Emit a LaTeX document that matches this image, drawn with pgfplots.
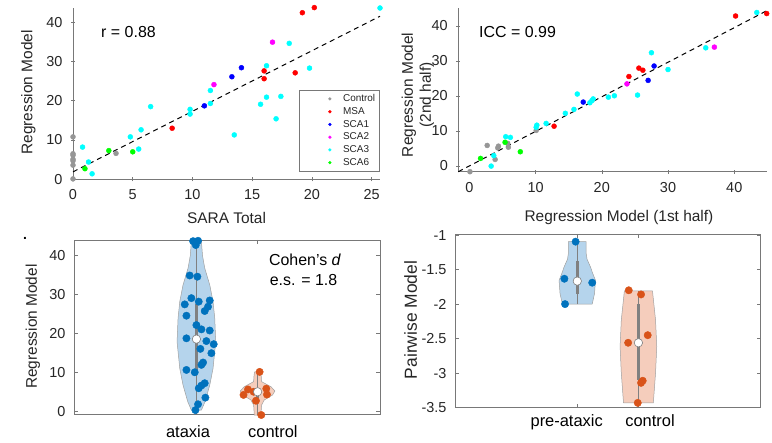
\documentclass[border=0pt]{standalone}
\usepackage{fontspec}
\setmainfont{Liberation Sans}
\usepackage{pgfplots}
\pgfplotsset{compat=1.18}

\definecolor{axgray}{RGB}{120,120,120}
\definecolor{txt}{RGB}{38,38,38}
\definecolor{cgray}{RGB}{150,150,150}
\definecolor{cred}{RGB}{255,0,0}
\definecolor{cblue}{RGB}{0,0,255}
\definecolor{cmag}{RGB}{255,0,255}
\definecolor{ccyan}{RGB}{0,255,255}
\definecolor{cgreen}{RGB}{0,255,0}
\definecolor{mblue}{RGB}{0,114,189}
\definecolor{morange}{RGB}{217,83,25}
\definecolor{vblue}{RGB}{181,212,236}
\definecolor{vorange}{RGB}{245,205,188}
\definecolor{vedge}{RGB}{160,160,160}
\definecolor{boxgray}{RGB}{128,128,128}

\pgfplotsset{
  base/.style={
    scale only axis, anchor=south west, clip=false,
    /pgf/number format/assume math mode=true,
    tick label style={font=\fontsize{14.5}{16}\selectfont, text=txt},
    label style={font=\fontsize{15.5}{18}\selectfont, text=txt},
    yticklabel style={xshift=-5bp},
    xticklabel style={yshift=-5bp},
    tick align=inside, major tick length=4bp,
    tick style={axgray, line width=0.5pt},
    axis line style={axgray, line width=0.6pt},
  },
  scat/.style={only marks, mark=*, mark size=2.5bp, color=#1, mark options={draw=#1, fill=#1}},
  jit/.style={only marks, mark=*, mark size=3.7bp, color=#1, mark options={draw=#1, fill=#1}},
  med/.style={only marks, mark=*, mark size=4.2bp, mark options={fill=white, draw=boxgray, line width=0.6pt}},
}

\begin{document}
\begin{tikzpicture}
\path[use as bounding box] (0,0) rectangle (772bp,443bp);
\node[font=\fontsize{14}{14}\selectfont\bfseries] at (25bp,205bp) {.};

% ---------------- top left ----------------
\begin{axis}[base, at={(73bp,263.7bp)}, width=307bp, height=171.3bp,
  axis lines=left, axis line style={-},
  xmin=0, xmax=25.7, ymin=0, ymax=43.6,
  xtick={0,5,10,15,20,25}, ytick={0,10,20,30,40},
  xlabel={SARA Total}, ylabel={Regression Model},
  xlabel style={at={(axis description cs:0.5,-0.228)}, anchor=center},
  ylabel style={at={(axis description cs:-0.1456,0.507)}, anchor=center},
  legend style={at={(0.998,0.048)}, anchor=south east, draw=axgray, fill=white,
    font=\fontsize{10}{11}\selectfont, text=txt, inner xsep=2bp, inner ysep=2bp,
    row sep=0.3bp, cells={anchor=west}},
  legend image code/.code={\path (-15bp,0bp) (24bp,0bp); \draw[#1] plot coordinates {(13bp,0bp)};},
  legend image post style={mark size=1.4bp},
]
\addplot[scat=cgray] coordinates {(0,10.8) (0,6.5) (0,6.1) (0,5.1) (0,4.7) (0,3.6) (0,0.1) (3.6,6.6)};
\addlegendentry{Control}
\addplot[scat=cred] coordinates {(19.2,42.4) (20.2,43.7) (16.0,27.6) (16.0,25.6) (18.6,27.1) (8.3,13.0)};
\addlegendentry{MSA}
\addplot[scat=cblue] coordinates {(14.1,28.4) (13.3,26.1) (11.0,18.7)};
\addlegendentry{SCA1}
\addplot[scat=cmag] coordinates {(16.7,34.9) (11.8,24.1)};
\addlegendentry{SCA2}
\addplot[scat=ccyan] coordinates {(18.1,34.6) (19.8,28.3) (16.2,28.9) (11.5,22.6) (11.5,19.3) (9.8,17.8) (9.8,16.6) (6.5,18.5) (16.2,20.9) (17.4,21.1) (15.7,19.1) (17.0,15.4) (13.5,11.3) (5.7,12.6) (4.8,10.8) (5.5,7.7) (0.8,8.2) (1.3,4.4) (1.6,1.4) (25.7,43.6)};
\addlegendentry{SCA3}
\addplot[scat=cgreen] coordinates {(3.0,7.3) (5.0,7.0) (1.0,2.7)};
\addlegendentry{SCA6}
\addplot[black, line width=1pt, dash pattern=on 5bp off 4bp, forget plot] coordinates {(0,1.9) (25.7,41.5)};
\node[anchor=west, font=\fontsize{16}{18}\selectfont, text=black] at (axis cs:2.07,37.6) {r = 0.88};
\end{axis}

% ---------------- top right ----------------
\begin{axis}[base, at={(458.3bp,271.3bp)}, width=308.4bp, height=163.4bp,
  axis lines=left, axis line style={-},
  xmin=-1.66, xmax=44.9, ymin=-1.7, ymax=45,
  xtick={0,10,20,30,40}, ytick={0,10,20,30,40},
  xlabel={Regression Model (1st half)},
  ylabel={Regression Model\\(2nd half)},
  xlabel style={at={(axis description cs:0.521,-0.283)}, anchor=center},
  ylabel style={at={(axis description cs:-0.131,0.47)}, anchor=center, align=center},
]
\addplot[scat=cgray] coordinates {(10.1,10.1) (2.7,5.8) (4.4,5.6) (4.3,5.1) (5.9,5.3) (5.8,6.4) (3.9,1.8) (0.1,-1.7)};
\addplot[scat=cred] coordinates {(40.2,42.8) (44.9,43.5) (25.6,27.9) (26.2,27.3) (24.1,25.5) (12.8,11.3)};
\addplot[scat=cblue] coordinates {(27.9,28.5) (27.0,24.4) (17.2,18.2)};
\addplot[scat=cmag] coordinates {(37.0,33.9) (23.8,23.4)};
\addplot[scat=ccyan] coordinates {(43.4,43.8) (35.7,33.7) (27.5,32.3) (30.0,27.5) (25.4,20.2) (21.9,20.0) (21.0,19.6) (16.3,20.5) (18.7,19.1) (18.5,18.6) (18.2,18.0) (15.8,16.1) (14.5,15.0) (11.6,12.1) (10.2,11.6) (10.1,11.0) (5.5,8.3) (6.2,8.1) (3.7,2.9) (3.3,-0.1)};
\addplot[scat=cgreen] coordinates {(5.4,6.7) (7.7,4.0) (1.7,2.1)};
\addplot[black, line width=1pt, dash pattern=on 5bp off 4bp] coordinates {(-1.66,-1.7) (44.9,44.3)};
\node[anchor=west, font=\fontsize{16}{18}\selectfont, text=black] at (axis cs:0.97,38.3) {ICC = 0.99};
\end{axis}

% ---------------- bottom left ----------------
\begin{axis}[base, at={(74bp,28.7bp)}, width=306bp, height=174.3bp,
  xmin=-1, xmax=4, ymin=-0.67, ymax=44.0,
  xtick={1,2}, xticklabels={}, ytick={0,10,20,30,40},
  ylabel={Regression Model},
  ylabel style={at={(axis description cs:-0.134,0.503)}, anchor=center},
]
\addplot[fill=vblue, draw=vedge, line width=0.5pt] coordinates {
 (1.082,0.4) (1.142,2.6) (1.218,6.8) (1.272,11.1) (1.316,17.9) (1.30,23.9) (1.272,28.2) (1.218,32.5) (1.136,36.8) (1.10,40) (1.082,43.7)
 (0.918,43.7) (0.90,40) (0.864,36.8) (0.782,32.5) (0.728,28.2) (0.70,23.9) (0.684,17.9) (0.728,11.1) (0.782,6.8) (0.858,2.6) (0.918,0.4)} -- cycle;
\addplot[fill=vorange, draw=vedge, line width=0.5pt] coordinates {
 (2.054,-0.85) (2.065,1.7) (2.109,3.0) (2.245,4.3) (2.283,5.3) (2.218,6.4) (2.065,7.7) (2.06,9.0) (2.05,10.2)
 (1.95,10.2) (1.94,9.0) (1.935,7.7) (1.782,6.4) (1.717,5.3) (1.755,4.3) (1.891,3.0) (1.935,1.7) (1.946,-0.85)} -- cycle;
\addplot[boxgray, line width=1pt] coordinates {(1,0.4) (1,43.7)};
\addplot[boxgray, line width=2.5pt] coordinates {(1,10.5) (1,27.5)};
\addplot[boxgray, line width=1pt] coordinates {(2,-0.85) (2,10.2)};
\addplot[boxgray, line width=2.5pt] coordinates {(2,3.6) (2,6.1)};
\addplot[jit=mblue] coordinates {(0.946,43.7) (1.027,43.8) (0.99,42.7) (0.891,34.9) (1.016,34.6) (0.918,29.1) (1.038,28.2) (0.81,27.5) (1.218,28.5) (1.19,26.9) (1.136,25.8) (0.837,24.6) (1.0,22.2) (1.082,21.1) (1.218,20.8) (0.837,18.8) (1.163,18.1) (1.283,17.3) (1.065,16.1) (1.245,15.0) (1.109,12.6) (1.082,12.0) (0.837,10.7) (0.973,10.1) (1.082,6.7) (1.136,7.3) (1.038,6.0) (1.147,3.6) (1.027,1.9) (0.984,0.4)};
\addplot[jit=morange] coordinates {(2.033,10.2) (1.842,5.7) (2.142,5.9) (1.77,4.3) (1.935,5.1) (2.153,4.4) (1.973,2.8) (2.06,-0.85)};
\addplot[med] coordinates {(1,18.6) (2,5.1)};
\node[anchor=center, font=\fontsize{16}{18}\selectfont, text=black] at (axis cs:2.775,38.9) {Cohen's \textit{d}};
\node[anchor=center, font=\fontsize{16}{18}\selectfont, text=black] at (axis cs:2.75,33.8) {e.s. = 1.8};
\node[anchor=base, font=\fontsize{16.5}{18}\selectfont, text=black] at (axis cs:0.863,-6.57) {ataxia};
\node[anchor=base, font=\fontsize{16.5}{18}\selectfont, text=black] at (axis cs:2.25,-6.57) {control};
\end{axis}

% ---------------- bottom right ----------------
\begin{axis}[base, at={(455bp,35.3bp)}, width=305.7bp, height=173.7bp,
  xmin=-1, xmax=4, ymin=-3.5, ymax=-0.985,
  xtick={1,2}, xticklabels={},
  ytick={-3.5,-3,-2.5,-2,-1.5,-1}, yticklabels={-3.5,-3,-2.5,-2,-1.5,-1},
  ylabel={Pairwise Model},
  ylabel style={at={(axis description cs:-0.145,0.505)}, anchor=center, font=\fontsize{17.5}{20}\selectfont},
]
\addplot[fill=vblue, draw=vedge, line width=0.5pt] coordinates {
 (1.244,-2.0) (1.282,-1.848) (1.298,-1.657) (1.25,-1.55) (1.217,-1.465) (1.16,-1.35) (1.146,-1.27) (1.144,-1.096)
 (0.856,-1.096) (0.854,-1.27) (0.84,-1.35) (0.783,-1.465) (0.75,-1.55) (0.702,-1.657) (0.718,-1.848) (0.756,-2.0)} -- cycle;
\addplot[fill=vorange, draw=vedge, line width=0.5pt] coordinates {
 (2.244,-3.43) (2.28,-3.0) (2.30,-2.615) (2.28,-2.23) (2.23,-1.81)
 (1.77,-1.81) (1.72,-2.23) (1.70,-2.615) (1.72,-3.0) (1.756,-3.43)} -- cycle;
\addplot[boxgray, line width=1pt] coordinates {(1,-2.0) (1,-1.096)};
\addplot[boxgray, line width=2.5pt] coordinates {(1,-1.85) (1,-1.37)};
\addplot[boxgray, line width=1pt] coordinates {(2,-3.43) (2,-1.81)};
\addplot[boxgray, line width=2.5pt] coordinates {(2,-3.1) (2,-2.0)};
\addplot[jit=mblue] coordinates {(0.973,-1.096) (0.789,-1.633) (1.244,-1.69) (0.8,-2.0)};
\addplot[jit=morange] coordinates {(1.842,-1.80) (2.043,-1.86) (2.152,-2.45) (1.832,-2.56) (2.07,-3.11) (2.043,-3.14) (1.989,-3.43)};
\addplot[med] coordinates {(1,-1.667) (2,-2.56)};
\node[anchor=base, font=\fontsize{16.5}{18}\selectfont, text=black] at (axis cs:0.827,-3.773) {pre-ataxic};
\node[anchor=base, font=\fontsize{16.5}{18}\selectfont, text=black] at (axis cs:2.19,-3.773) {control};
\end{axis}
\end{tikzpicture}
\end{document}
